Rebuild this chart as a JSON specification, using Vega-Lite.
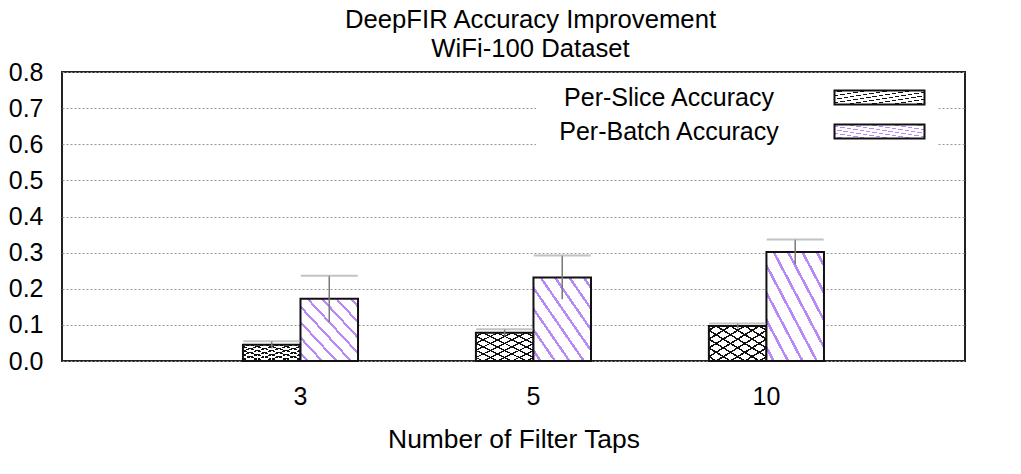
{
  "$schema": "https://vega.github.io/schema/vega-lite/v6.json",
  "width": 903,
  "height": 289,
  "autosize": {"type": "none"},
  "padding": {"left": 62, "top": 72, "right": 56, "bottom": 113},
  "title": {
    "text": ["DeepFIR Accuracy Improvement", "WiFi-100 Dataset"],
    "fontSize": 25.7,
    "fontWeight": "normal",
    "color": "black",
    "lineHeight": 29,
    "offset": -3,
    "dx": 17
  },
  "config": {
    "font": "Liberation Sans",
    "view": {"stroke": "#222", "strokeWidth": 2},
    "axisY": {
      "title": null,
      "format": ".1f",
      "labelFontSize": 25,
      "labelColor": "black",
      "labelOverlap": false,
      "labelPadding": 19,
      "ticks": false,
      "domain": false,
      "grid": true,
      "gridColor": "#999",
      "gridDash": [2, 2]
    },
    "legend": {
      "title": null,
      "orient": "none",
      "direction": "vertical",
      "padding": 8,
      "fillColor": "white",
      "labelFontSize": 25,
      "labelLimit": 400,
      "labelColor": "black",
      "labelAlign": "center",
      "labelOffset": 100,
      "symbolType": "M27.8,-0.7H36.8V0.7H27.8Z",
      "symbolSize": 400,
      "symbolStrokeColor": "#111",
      "symbolStrokeWidth": 2
    }
  },
  "resolve": {"scale": {"stroke": "independent"}, "legend": {"stroke": "independent"}},
  "data": {
    "values": [
      {"taps": "3", "series": "Per-Slice Accuracy", "acc": 0.045, "lo": 0.035, "hi": 0.055},
      {"taps": "3", "series": "Per-Batch Accuracy", "acc": 0.172, "lo": 0.108, "hi": 0.236},
      {"taps": "5", "series": "Per-Slice Accuracy", "acc": 0.078, "lo": 0.068, "hi": 0.088},
      {"taps": "5", "series": "Per-Batch Accuracy", "acc": 0.231, "lo": 0.171, "hi": 0.292},
      {"taps": "10", "series": "Per-Slice Accuracy", "acc": 0.097, "lo": 0.09, "hi": 0.104},
      {"taps": "10", "series": "Per-Batch Accuracy", "acc": 0.302, "lo": 0.268, "hi": 0.336}
    ]
  },
  "encoding": {
    "x": {
      "field": "taps",
      "type": "nominal",
      "sort": ["3", "5", "10"],
      "scale": {"paddingInner": 0.506, "paddingOuter": 0.691, "align": 0.562},
      "axis": {
        "title": "Number of Filter Taps",
        "titleFontSize": 26.4,
        "titleFontWeight": "normal",
        "titleColor": "black",
        "titlePadding": 17,
        "labelAngle": 0,
        "labelFontSize": 25,
        "labelColor": "black",
        "labelPadding": 23,
        "ticks": false,
        "domain": false
      }
    },
    "xOffset": {
      "field": "series",
      "type": "nominal",
      "sort": ["Per-Slice Accuracy", "Per-Batch Accuracy"],
      "scale": {"paddingInner": 0, "paddingOuter": 0}
    }
  },
  "layer": [
    {
      "transform": [{"filter": "datum.series === 'Per-Slice Accuracy'"}],
      "mark": {
        "type": "bar",
        "strokeWidth": 0,
        "fill": {
          "gradient": "linear", "x1": 0, "y1": 0, "x2": 1, "y2": 1,
          "stops": [
            {"offset": 0, "color": "white"}, {"offset": 0.05, "color": "white"}, {"offset": 0.05, "color": "#111"}, {"offset": 0.075, "color": "#111"}, {"offset": 0.075, "color": "white"},
            {"offset": 0.175, "color": "white"}, {"offset": 0.175, "color": "#111"}, {"offset": 0.2, "color": "#111"}, {"offset": 0.2, "color": "white"},
            {"offset": 0.3, "color": "white"}, {"offset": 0.3, "color": "#111"}, {"offset": 0.325, "color": "#111"}, {"offset": 0.325, "color": "white"},
            {"offset": 0.425, "color": "white"}, {"offset": 0.425, "color": "#111"}, {"offset": 0.45, "color": "#111"}, {"offset": 0.45, "color": "white"},
            {"offset": 0.55, "color": "white"}, {"offset": 0.55, "color": "#111"}, {"offset": 0.575, "color": "#111"}, {"offset": 0.575, "color": "white"},
            {"offset": 0.675, "color": "white"}, {"offset": 0.675, "color": "#111"}, {"offset": 0.7, "color": "#111"}, {"offset": 0.7, "color": "white"},
            {"offset": 0.8, "color": "white"}, {"offset": 0.8, "color": "#111"}, {"offset": 0.825, "color": "#111"}, {"offset": 0.825, "color": "white"},
            {"offset": 0.925, "color": "white"}, {"offset": 0.925, "color": "#111"}, {"offset": 0.95, "color": "#111"}, {"offset": 0.95, "color": "white"},
            {"offset": 1, "color": "white"}
          ]
        }
      },
      "encoding": {
        "y": {
          "field": "acc",
          "type": "quantitative",
          "scale": {"domain": [0, 0.8], "nice": false},
          "axis": {"values": [0, 0.1, 0.2, 0.3, 0.4, 0.5, 0.6, 0.7, 0.8]}
        },
        "stroke": {
          "field": "series",
          "type": "nominal",
          "scale": {"domain": ["Per-Slice Accuracy"], "range": ["#111"]},
          "legend": {"legendX": 474, "legendY": 5}
        }
      }
    },
    {
      "transform": [{"filter": "datum.series === 'Per-Slice Accuracy'"}],
      "mark": {
        "type": "bar",
        "stroke": "#111",
        "strokeWidth": 2,
        "fill": {
          "gradient": "linear", "x1": 0, "y1": 1, "x2": 1, "y2": 0,
          "stops": [
            {"offset": 0, "color": "rgba(0,0,0,0)"}, {"offset": 0.05, "color": "rgba(0,0,0,0)"}, {"offset": 0.05, "color": "#111"}, {"offset": 0.075, "color": "#111"}, {"offset": 0.075, "color": "rgba(0,0,0,0)"},
            {"offset": 0.175, "color": "rgba(0,0,0,0)"}, {"offset": 0.175, "color": "#111"}, {"offset": 0.2, "color": "#111"}, {"offset": 0.2, "color": "rgba(0,0,0,0)"},
            {"offset": 0.3, "color": "rgba(0,0,0,0)"}, {"offset": 0.3, "color": "#111"}, {"offset": 0.325, "color": "#111"}, {"offset": 0.325, "color": "rgba(0,0,0,0)"},
            {"offset": 0.425, "color": "rgba(0,0,0,0)"}, {"offset": 0.425, "color": "#111"}, {"offset": 0.45, "color": "#111"}, {"offset": 0.45, "color": "rgba(0,0,0,0)"},
            {"offset": 0.55, "color": "rgba(0,0,0,0)"}, {"offset": 0.55, "color": "#111"}, {"offset": 0.575, "color": "#111"}, {"offset": 0.575, "color": "rgba(0,0,0,0)"},
            {"offset": 0.675, "color": "rgba(0,0,0,0)"}, {"offset": 0.675, "color": "#111"}, {"offset": 0.7, "color": "#111"}, {"offset": 0.7, "color": "rgba(0,0,0,0)"},
            {"offset": 0.8, "color": "rgba(0,0,0,0)"}, {"offset": 0.8, "color": "#111"}, {"offset": 0.825, "color": "#111"}, {"offset": 0.825, "color": "rgba(0,0,0,0)"},
            {"offset": 0.925, "color": "rgba(0,0,0,0)"}, {"offset": 0.925, "color": "#111"}, {"offset": 0.95, "color": "#111"}, {"offset": 0.95, "color": "rgba(0,0,0,0)"},
            {"offset": 1, "color": "rgba(0,0,0,0)"}
          ]
        }
      },
      "encoding": {
        "y": {"field": "acc", "type": "quantitative", "axis": {"values": [0, 0.1, 0.2, 0.3, 0.4, 0.5, 0.6, 0.7, 0.8]}}
      }
    },
    {
      "transform": [{"filter": "datum.series === 'Per-Batch Accuracy'"}],
      "mark": {
        "type": "bar",
        "strokeWidth": 2,
        "fill": {
          "gradient": "linear", "x1": 0, "y1": 1, "x2": 1, "y2": 0,
          "stops": [
            {"offset": 0, "color": "white"}, {"offset": 0.05, "color": "white"}, {"offset": 0.05, "color": "#b888f8"}, {"offset": 0.075, "color": "#b888f8"}, {"offset": 0.075, "color": "white"},
            {"offset": 0.175, "color": "white"}, {"offset": 0.175, "color": "#b888f8"}, {"offset": 0.2, "color": "#b888f8"}, {"offset": 0.2, "color": "white"},
            {"offset": 0.3, "color": "white"}, {"offset": 0.3, "color": "#b888f8"}, {"offset": 0.325, "color": "#b888f8"}, {"offset": 0.325, "color": "white"},
            {"offset": 0.425, "color": "white"}, {"offset": 0.425, "color": "#b888f8"}, {"offset": 0.45, "color": "#b888f8"}, {"offset": 0.45, "color": "white"},
            {"offset": 0.55, "color": "white"}, {"offset": 0.55, "color": "#b888f8"}, {"offset": 0.575, "color": "#b888f8"}, {"offset": 0.575, "color": "white"},
            {"offset": 0.675, "color": "white"}, {"offset": 0.675, "color": "#b888f8"}, {"offset": 0.7, "color": "#b888f8"}, {"offset": 0.7, "color": "white"},
            {"offset": 0.8, "color": "white"}, {"offset": 0.8, "color": "#b888f8"}, {"offset": 0.825, "color": "#b888f8"}, {"offset": 0.825, "color": "white"},
            {"offset": 0.925, "color": "white"}, {"offset": 0.925, "color": "#b888f8"}, {"offset": 0.95, "color": "#b888f8"}, {"offset": 0.95, "color": "white"},
            {"offset": 1, "color": "white"}
          ]
        }
      },
      "encoding": {
        "y": {"field": "acc", "type": "quantitative", "axis": {"values": [0, 0.1, 0.2, 0.3, 0.4, 0.5, 0.6, 0.7, 0.8]}},
        "stroke": {
          "field": "series",
          "type": "nominal",
          "scale": {"domain": ["Per-Batch Accuracy"], "range": ["#111"]},
          "legend": {"legendX": 474, "legendY": 39}
        }
      }
    },
    {
      "mark": {"type": "rule", "color": "#777", "strokeWidth": 1.5},
      "encoding": {
        "y": {"field": "lo", "type": "quantitative", "axis": {"values": [0, 0.1, 0.2, 0.3, 0.4, 0.5, 0.6, 0.7, 0.8]}},
        "y2": {"field": "hi"}
      }
    },
    {
      "mark": {"type": "tick", "color": "#aaa", "thickness": 2, "size": 57},
      "encoding": {
        "y": {"field": "hi", "type": "quantitative", "axis": {"values": [0, 0.1, 0.2, 0.3, 0.4, 0.5, 0.6, 0.7, 0.8]}}
      }
    }
  ]
}
